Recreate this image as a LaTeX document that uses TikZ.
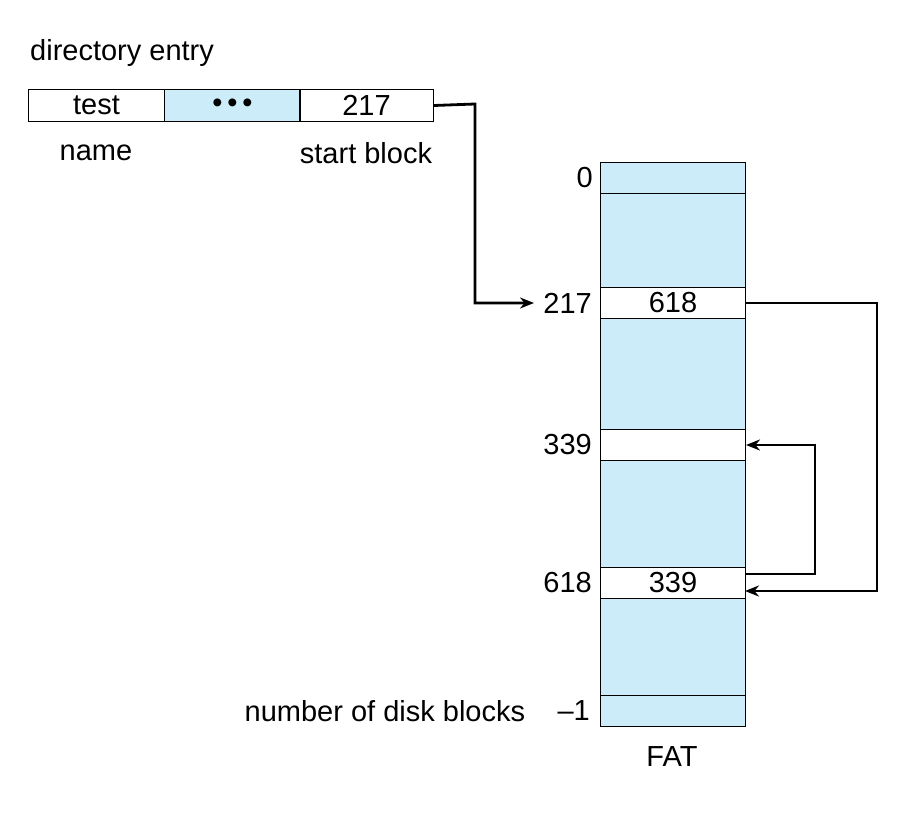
\documentclass[tikz,border=0pt]{standalone}
\usepackage{fontspec}
\setmainfont{Liberation Sans}
\usetikzlibrary{positioning}
\usetikzlibrary{arrows.meta}
\definecolor{fatblue}{RGB}{204,236,250}

\begin{document}
\begin{tikzpicture}[x=1pt, y=-1pt, >={Stealth[length=14pt,width=11pt]},
    font=\fontsize{29}{34}\selectfont,
    cell/.style={draw, line width=1pt, minimum width=136pt, minimum height=32pt, inner sep=0pt, anchor=north west},
    row/.style={draw, line width=1pt, minimum width=145pt, inner sep=0pt, anchor=north west},
    link/.style={->, line width=2.8pt}]
    \useasboundingbox (0,0) rectangle (906,818);

    % directory entry
    \node[anchor=west, inner sep=0pt] (dirlbl) at (30,53) {directory entry};
    \node[cell] (name) at (28,89) {test};
    \node[cell, fill=fatblue] (dots) at (164,89) {\textbullet\,\textbullet\,\textbullet};
    \node[cell, minimum width=134pt] (start) at (299,89) {217};
    \node (namelbl) at (96,153) {name};
    \node (startlbl) at (366,153) {start block};

    % FAT
    \node[row, fill=fatblue, minimum height=31pt] (f0) at (600,162) {};
    \node[row, fill=fatblue, minimum height=94pt] (g1) at (600,193) {};
    \node[row, fill=white, minimum height=31pt] (f217) at (600,287) {618};
    \node[row, fill=fatblue, minimum height=111pt] (g2) at (600,318) {};
    \node[row, fill=white, minimum height=31pt] (f339) at (600,429) {};
    \node[row, fill=fatblue, minimum height=107pt] (g3) at (600,460) {};
    \node[row, fill=white, minimum height=31pt] (f618) at (600,567) {339};
    \node[row, fill=fatblue, minimum height=97pt] (g4) at (600,598) {};
    \node[row, fill=fatblue, minimum height=31pt] (fend) at (600,695) {};

    \node[left=7pt of f0.west, inner sep=0pt] (l0) {0};
    \node[left=8pt of f217.west, inner sep=0pt] (l217) {217};
    \node[left=8pt of f339.west, inner sep=0pt] (l339) {339};
    \node[left=8pt of f618.west, inner sep=0pt] (l618) {618};
    \node[left=10pt of fend.west, inner sep=0pt] (lend) {--1};
    \node[left=32pt of lend.west, inner sep=0pt] (ndb) {number of disk blocks};
    \node (fat) at (672,757) {FAT};

    % links
    \coordinate (a1) at (475,104);
    \coordinate (t217) at (534,303);
    \draw[link] (start.east) -- (a1) |- (t217);
    \coordinate (a2) at (877,303);
    \coordinate (e2) at (745,591);
    \draw[link] (f217.east) -- (a2) |- (e2);
    \coordinate (s3) at (745,574);
    \coordinate (a3) at (815,574);
    \draw[link] (s3) -- (a3) |- (f339.east);
\end{tikzpicture}
\end{document}
